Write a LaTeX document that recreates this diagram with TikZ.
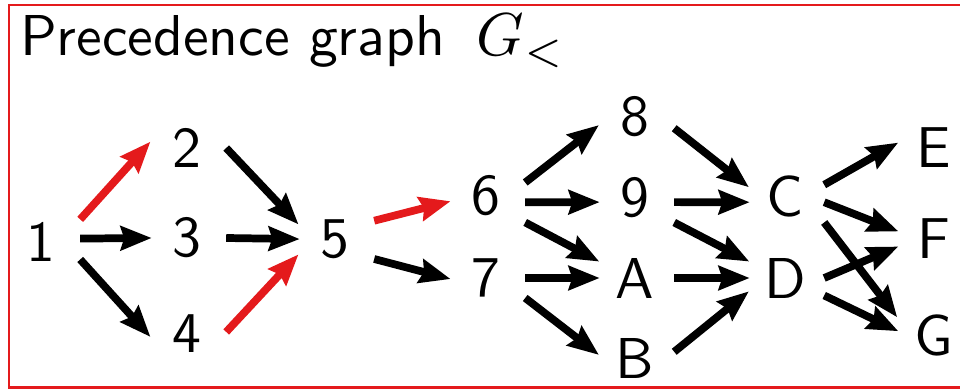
\RequirePackage{fix-cm}
\documentclass[tikz,border=0pt]{standalone}
\usepackage{fontspec}
\usetikzlibrary{arrows.meta}
\definecolor{PrecRed}{HTML}{E41A1C}
\definecolor{PrecInk}{HTML}{000000}
\tikzset{
  every node/.style={font=\fontsize{10}{12}\selectfont\sffamily, text=PrecInk, scale=4.1},
  task/.style={rectangle, inner sep=0pt, minimum width=13.2pt, minimum height=9.8pt},
  prec/.style={-{Stealth[length=22pt,width=17pt,inset=2.5pt]}, draw=PrecInk, line width=5.5pt, shorten >=-2.8pt},
  crit/.style={prec, draw=PrecRed, fill=PrecRed},
  frame/.style={draw=PrecRed, line width=1.5pt},
}
\begin{document}
\begin{tikzpicture}[x=0.025cm,y=-0.025cm]
  \useasboundingbox (0,0) rectangle (960,389);
  \clip (0,0) rectangle (960,389);
  \draw[frame] (9,5) rectangle (980,387.5);

  % Title
  \node[anchor=base west, inner sep=0pt] (title) at (19,55)
    {Precedence graph \hspace{2.2pt}\scalebox{1.05}{$G_<$}};

  % Tasks, column by column
  \node[task] (t1) at (41,242) {1};
  \node[task] (t2) at (187,148) {2};
  \node[task] (t3) at (187,238) {3};
  \node[task] (t4) at (187,334) {4};
  \node[task] (t5) at (335,239) {5};
  \node[task] (t6) at (486,196) {6};
  \node[task] (t7) at (486,278) {7};
  \node[task] (t8) at (635,117) {8};
  \node[task] (t9) at (635,198) {9};
  \node[task] (tA) at (635,278) {A};
  \node[task] (tB) at (635,358) {B};
  \node[task] (tC) at (785,196) {C};
  \node[task] (tD) at (785,278) {D};
  \node[task] (tE) at (934,148) {E};
  \node[task] (tF) at (934,239) {F};
  \node[task] (tG) at (934,335) {G};

  % Precedence arcs, critical ones in red
  \draw[crit] (t1.30) -- (t2.175);
  \draw[prec] (t1.5) -- (t3.180);
  \draw[prec] (t1.-24) -- (t4.180);
  \draw[prec] (t2.0) -- (t5.156);
  \draw[prec] (t3.0) -- (t5.180);
  \draw[crit] (t4.3) -- (t5.205);
  \draw[crit] (t5.25) -- (t6.189);
  \draw[prec] (t5.-27) -- (t7.180);

  \draw[prec] (t6.19) -- (t8.195);
  \draw[prec] (t6.-9) -- (t9.186);
  \draw[prec] (t6.-34) -- (tA.155);
  \draw[prec] (t7.0) -- (tA.180);
  \draw[prec] (t7.-27) -- (tB.172);

  \draw[prec] (t8.-16) -- (tC.164);
  \draw[prec] (t9.-6) -- (tC.189);
  \draw[prec] (t9.-32) -- (tD.155);
  \draw[prec] (tA.0) -- (tD.180);
  \draw[prec] (tB.9) -- (tD.202);

  \draw[prec] (tC.16) -- (tE.175);
  \draw[prec] (tC.-9) -- (tF.167);
  \draw[prec] (tC.-34) -- (tG.152);
  \draw[prec] (tD.0) -- (tF.193);
  \draw[prec] (tD.-24) -- (tG.172);
\end{tikzpicture}
\end{document}
